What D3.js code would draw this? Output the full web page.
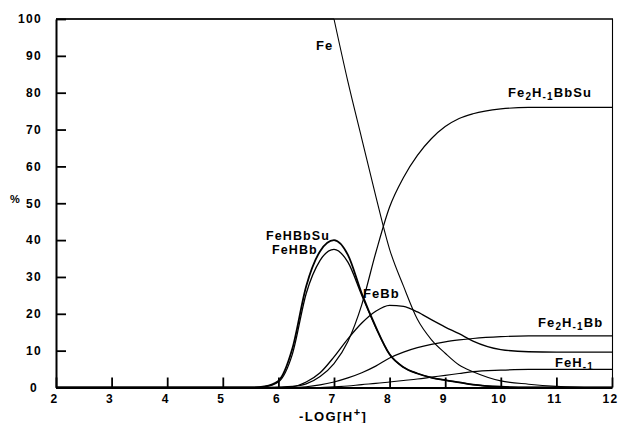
<!DOCTYPE html>
<html>
<head>
<meta charset="utf-8">
<script src="https://cdn.jsdelivr.net/npm/d3@7/dist/d3.min.js"></script>
<style>
  html, body { margin: 0; padding: 0; background: #fff; }
  svg text { font-family: "Liberation Sans", Arial, Helvetica, sans-serif; font-weight: bold; fill: #000; }
</style>
</head>
<body>
<svg id="chart" width="622" height="423"></svg>
<script>
// ---- data ----
const pH = [2, 5.5, 5.75, 6, 6.25, 6.5, 6.75, 7, 7.25, 7.5, 7.75, 8, 8.25, 8.5, 8.75, 9, 9.25, 9.5, 10, 10.5, 11, 11.5, 12];
const Fe        = [100, 100, 100, 100, 100, 100, 100, 100, 83, 67.5, 52, 37.5, 27.5, 18.5, 13, 9.3, 6.1, 4.3, 1.8, 0.9, 0.3, 0, 0];
const Fe2H1BbSu = [0, 0, 0, 0.1, 0.3, 1.0, 3.0, 6.5, 12.5, 22.5, 36.5, 49, 57, 63, 67.5, 70.8, 73, 74.3, 75.6, 76, 76, 76, 76];
const FeHBbSu   = [0, 0, 0.3, 1.8, 10.5, 27.5, 37, 40, 36, 25.5, 16.5, 9, 5.5, 3.8, 2.7, 2, 1.4, 0.8, 0.2, 0, 0, 0, 0];
const FeHBb     = [0, 0, 0.2, 1.5, 9, 25.5, 34.5, 37.5, 34, 25, 16.3, 9, 5.5, 3.8, 2.7, 2, 1.4, 0.8, 0.2, 0, 0, 0, 0];
const FeBb      = [0, 0, 0, 0, 0.2, 1.5, 4, 8.3, 13.2, 17.5, 20.7, 22.3, 22, 20.5, 18.4, 16.4, 14.6, 12.6, 10.3, 9.7, 9.6, 9.6, 9.6];
const Fe2H1Bb   = [0, 0, 0, 0, 0, 0.2, 0.7, 1.5, 2.6, 4, 5.8, 8, 9.6, 10.8, 11.7, 12.4, 12.9, 13.3, 13.8, 14, 14, 14, 14];
const FeH1      = [0, 0, 0, 0, 0, 0, 0, 0.2, 0.4, 0.8, 1.1, 1.5, 1.9, 2.3, 2.8, 3.3, 3.8, 4.3, 4.7, 4.9, 4.9, 4.9, 4.9];

const xTicks = [2, 3, 4, 5, 6, 7, 8, 9, 10, 11, 12];
const yTicks = [0, 10, 20, 30, 40, 50, 60, 70, 80, 90, 100];

// ---- layout ----
const svg = d3.select("#chart");
const x = d3.scaleLinear().domain([2, 12]).range([56, 612]);
const y = d3.scaleLinear().domain([0, 100]).range([387.5, 19]);

// frame (top and right)
svg.append("line").attr("x1", 56).attr("x2", 613).attr("y1", y(100)).attr("y2", y(100))
  .attr("stroke", "#000").attr("stroke-width", 1.4);
svg.append("line").attr("x1", 612.5).attr("x2", 612.5).attr("y1", y(100)).attr("y2", y(0))
  .attr("stroke", "#000").attr("stroke-width", 1.1);

// axes
const yAxis = d3.axisLeft(y).tickValues(yTicks).tickSize(-10).tickSizeOuter(0).tickPadding(14);
const gy = svg.append("g").attr("transform", "translate(56,0)").call(yAxis);
const xAxis = d3.axisBottom(x).tickValues(xTicks).tickSize(-10).tickSizeOuter(0).tickPadding(7);
const gx = svg.append("g").attr("transform", `translate(0,${y(0)})`).call(xAxis);

[gx, gy].forEach(g => {
  g.select(".domain").attr("stroke", "#000").attr("stroke-width", 2);
  g.selectAll(".tick line").attr("stroke", "#000").attr("stroke-width", 1.8);
  g.selectAll(".tick text").attr("font-size", 12).attr("font-family", "'Liberation Sans', Arial, sans-serif")
    .attr("font-weight", "bold").style("letter-spacing", "1.3px").attr("fill", "#000");
});
gy.selectAll(".tick text").filter(d => d === 0).attr("dx", -4);
gx.selectAll(".tick text").attr("dx", -2);

// curves
const pts = v => v.map((d, i) => [pH[i], d]);
const line = d3.line().x(d => x(d[0])).y(d => y(d[1])).curve(d3.curveMonotoneX);
const straight = d3.line().x(d => x(d[0])).y(d => y(d[1]));

// Fe: flat plateau then a descending branch (two pieces so the corner stays sharp)
const fePts = pts(Fe);
const feBreak = pH.indexOf(7);
svg.append("path").attr("d", straight(fePts.slice(0, feBreak + 1)))
  .attr("fill", "none").attr("stroke", "#000").attr("stroke-width", 1.1);
svg.append("path").attr("d", line(fePts.slice(feBreak)))
  .attr("fill", "none").attr("stroke", "#000").attr("stroke-width", 1.1);

const series = [
  { v: Fe2H1BbSu, w: 1.2 },
  { v: FeHBbSu, w: 1.8 },
  { v: FeHBb, w: 1.3 },
  { v: FeBb, w: 1.3 },
  { v: Fe2H1Bb, w: 1.2 },
  { v: FeH1, w: 1.2 }
];
svg.append("g").selectAll("path").data(series).join("path")
  .attr("d", s => line(pts(s.v))).attr("fill", "none").attr("stroke", "#000")
  .attr("stroke-width", s => s.w);

// labels
function label(parts, px, py, fs) {
  const t = svg.append("text").attr("x", px).attr("y", py).attr("font-size", fs || 13)
    .style("letter-spacing", "1.1px");
  let shift = 0;
  parts.forEach(p => {
    const sub = p.sub ? 3 : 0;
    const ts = t.append("tspan").text(p.t).attr("dy", sub - shift);
    if (p.sub) ts.attr("font-size", 10);
    shift = sub;
  });
  return t;
}
label([{ t: "Fe" }], 316, 50);
label([{ t: "Fe" }, { t: "2", sub: true }, { t: "H" }, { t: "-1", sub: true }, { t: "BbSu" }], 508, 97);
label([{ t: "FeHBbSu" }], 266, 240, 12.5);
label([{ t: "FeHBb" }], 272, 254, 12.5);
label([{ t: "FeBb" }], 363, 298);
label([{ t: "Fe" }, { t: "2", sub: true }, { t: "H" }, { t: "-1", sub: true }, { t: "Bb" }], 538, 327);
label([{ t: "FeH" }, { t: "-1", sub: true }], 555, 367);

// axis titles
svg.append("text").attr("x", 10).attr("y", 203).attr("font-size", 11).text("%");
const xt = svg.append("text").attr("x", 299).attr("y", 421).attr("font-size", 13).style("letter-spacing", "1.4px");
xt.append("tspan").text("-LOG[H");
xt.append("tspan").text("+").attr("dy", -5).attr("font-size", 11);
xt.append("tspan").text("]").attr("dy", 5);
</script>
</body>
</html>
